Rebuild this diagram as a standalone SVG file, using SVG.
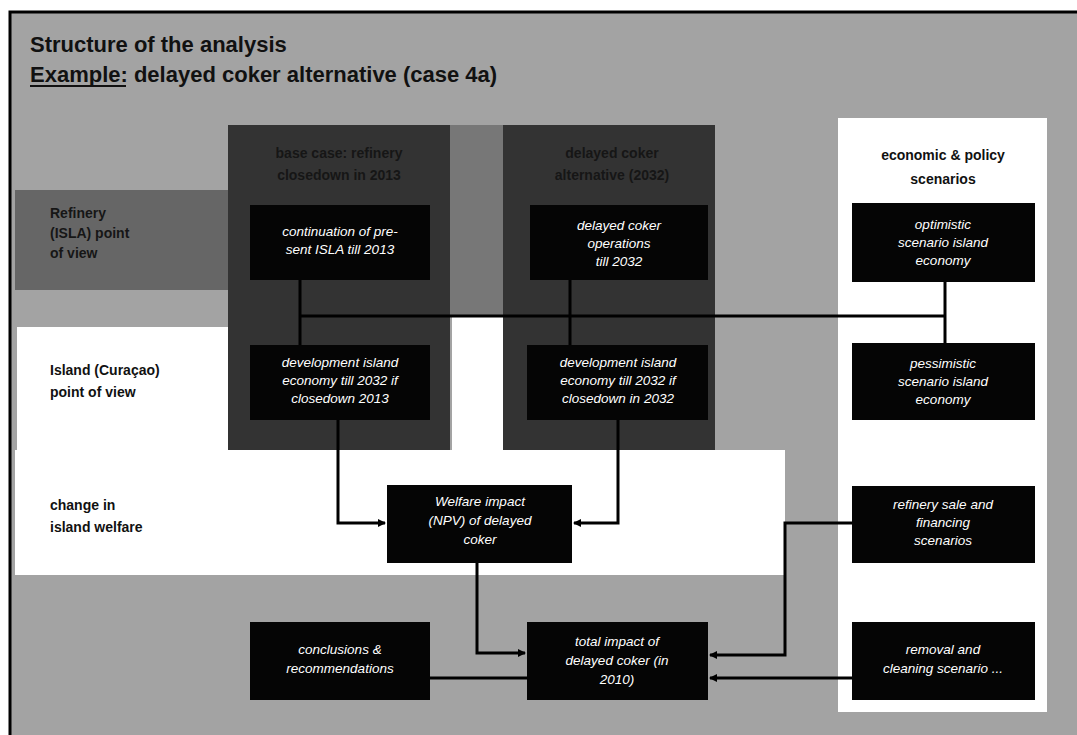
<svg xmlns="http://www.w3.org/2000/svg" width="1077" height="735" viewBox="0 0 1077 735">
<style>
.t{font-family:"Liberation Sans",Arial,sans-serif;font-weight:bold;font-size:22px;fill:#111}
.lbl{font-family:"Liberation Sans",Arial,sans-serif;font-weight:bold;font-size:14px;fill:#111}
.dk{font-family:"Liberation Sans",Arial,sans-serif;font-weight:bold;font-size:14px;fill:#161616}
.box{fill:#050505}
.bt{font-family:"Liberation Sans",Arial,sans-serif;font-style:italic;font-size:13.5px;fill:#fff;text-anchor:middle}
.c{fill:none;stroke:#000;stroke-width:3}
</style>
<defs>
<marker id="ar" markerWidth="8" markerHeight="8" refX="7" refY="4" orient="auto" markerUnits="userSpaceOnUse">
<path d="M0,0 L8,4 L0,8 Z" fill="#000"/>
</marker>
</defs>
<rect width="1077" height="735" fill="#fff"/>
<g id="background">
<rect x="10" y="12" width="1067" height="723" fill="#a3a3a3"/>
<rect x="15" y="190" width="215" height="100" fill="#666"/>
<rect x="228" y="125" width="222" height="325" fill="#333"/>
<rect x="503" y="125" width="212" height="325" fill="#333"/>
<rect x="450" y="125" width="53" height="190" fill="#777"/>
<rect x="17" y="327" width="211" height="248" fill="#fff"/>
<rect x="15" y="450" width="770" height="125" fill="#fff"/>
<rect x="452" y="315" width="51" height="140" fill="#fff"/>
<rect x="838" y="118" width="209" height="594" fill="#fff"/>
<path d="M10,735 V12 H1077" fill="none" stroke="#000" stroke-width="3"/>
</g>
<g id="title">
<text class="t" x="30" y="52">Structure of the analysis</text>
<text class="t" x="30" y="82">Example: delayed coker alternative (case 4a)</text>
<line x1="30" y1="86" x2="126" y2="86" stroke="#111" stroke-width="2"/>
</g>
<g id="headers">
<text class="dk" x="339" y="158" text-anchor="middle">base case: refinery</text>
<text class="dk" x="339" y="180" text-anchor="middle">closedown in 2013</text>
<text class="dk" x="612" y="158" text-anchor="middle">delayed coker</text>
<text class="dk" x="612" y="180" text-anchor="middle">alternative (2032)</text>
<text class="lbl" x="943" y="160" text-anchor="middle">economic &amp; policy</text>
<text class="lbl" x="943" y="184" text-anchor="middle">scenarios</text>
<text class="dk" x="50" y="218">Refinery</text>
<text class="dk" x="50" y="238">(ISLA) point</text>
<text class="dk" x="50" y="258">of view</text>
<text class="lbl" x="50" y="375">Island (Curaçao)</text>
<text class="lbl" x="50" y="397">point of view</text>
<text class="lbl" x="50" y="510">change in</text>
<text class="lbl" x="50" y="532">island welfare</text>
</g>
<g id="connectors">
<line class="c" x1="300" y1="280" x2="300" y2="345"/>
<line class="c" x1="570" y1="280" x2="570" y2="345"/>
<line class="c" x1="300" y1="316" x2="945" y2="316"/>
<line class="c" x1="945" y1="282" x2="945" y2="343"/>
<path class="c" d="M338,420 V523 H385" marker-end="url(#ar)"/>
<path class="c" d="M618,420 V523 H574" marker-end="url(#ar)"/>
<path class="c" d="M477,563 V653 H525" marker-end="url(#ar)"/>
<path class="c" d="M852,523 H785 V655 H710" marker-end="url(#ar)"/>
<path class="c" d="M852,678 H710" marker-end="url(#ar)"/>
<line class="c" x1="430" y1="678" x2="527" y2="678"/>
</g>
<g id="n-continuation"><rect class="box" x="250" y="205" width="180" height="75"/>
<text class="bt" x="340" y="236">continuation of pre-</text><text class="bt" x="340" y="254">sent ISLA till 2013</text></g>
<g id="n-coker-ops"><rect class="box" x="530" y="205" width="178" height="75"/>
<text class="bt" x="619" y="230">delayed coker</text><text class="bt" x="619" y="248">operations</text><text class="bt" x="619" y="266">till 2032</text></g>
<g id="n-dev-2013"><rect class="box" x="250" y="345" width="180" height="75"/>
<text class="bt" x="340" y="367">development island</text><text class="bt" x="340" y="385">economy till 2032 if</text><text class="bt" x="340" y="403">closedown 2013</text></g>
<g id="n-dev-2032"><rect class="box" x="527" y="345" width="181" height="75"/>
<text class="bt" x="618" y="367">development island</text><text class="bt" x="618" y="385">economy till 2032 if</text><text class="bt" x="618" y="403">closedown in 2032</text></g>
<g id="n-welfare"><rect class="box" x="387" y="485" width="185" height="78"/>
<text class="bt" x="480" y="506">Welfare impact</text><text class="bt" x="480" y="525">(NPV) of delayed</text><text class="bt" x="480" y="544">coker</text></g>
<g id="n-optimistic"><rect class="box" x="852" y="203" width="183" height="79"/>
<text class="bt" x="943" y="229">optimistic</text><text class="bt" x="943" y="247">scenario island</text><text class="bt" x="943" y="265">economy</text></g>
<g id="n-pessimistic"><rect class="box" x="852" y="343" width="183" height="77"/>
<text class="bt" x="943" y="368">pessimistic</text><text class="bt" x="943" y="386">scenario island</text><text class="bt" x="943" y="404">economy</text></g>
<g id="n-refinery-sale"><rect class="box" x="852" y="486" width="183" height="77"/>
<text class="bt" x="943" y="509">refinery sale and</text><text class="bt" x="943" y="527">financing</text><text class="bt" x="943" y="545">scenarios</text></g>
<g id="n-removal"><rect class="box" x="852" y="622" width="183" height="78"/>
<text class="bt" x="943" y="654">removal and</text><text class="bt" x="943" y="673">cleaning scenario ...</text></g>
<g id="n-total"><rect class="box" x="527" y="622" width="181" height="78"/>
<text class="bt" x="617" y="646">total impact of</text><text class="bt" x="617" y="665">delayed coker (in</text><text class="bt" x="617" y="684">2010)</text></g>
<g id="n-conclusions"><rect class="box" x="250" y="622" width="180" height="78"/>
<text class="bt" x="340" y="654">conclusions &amp;</text><text class="bt" x="340" y="673">recommendations</text></g>
</svg>
